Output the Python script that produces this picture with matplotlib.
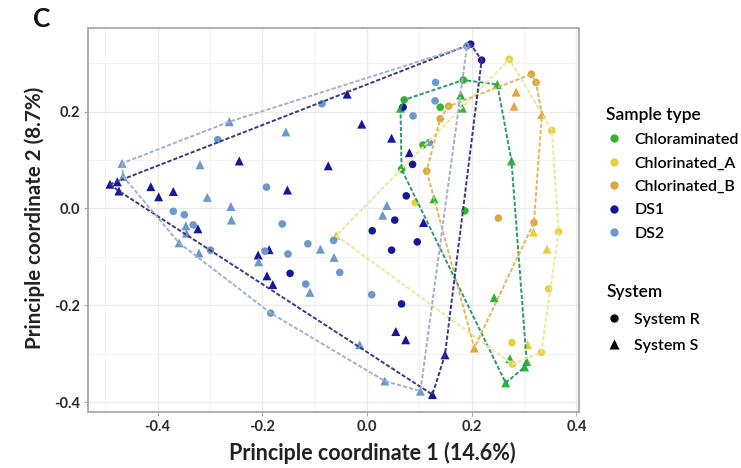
import numpy as np
import matplotlib
matplotlib.use("Agg")
import matplotlib.pyplot as plt
from matplotlib.lines import Line2D

plt.rcParams['font.family'] = ['Lato', 'DejaVu Sans']
plt.rcParams['axes.unicode_minus'] = False

# ---------------- data (PCoA coordinates) ----------------
groups = ["Chloraminated", "Chlorinated_A", "Chlorinated_B", "DS1", "DS2"]
systems = ["System R", "System S"]

chloram_R_x = [0.071, 0.184, 0.140, 0.107, 0.066, 0.187]
chloram_R_y = [0.224, 0.265, 0.209, 0.131, 0.081, -0.005]
chloram_S_x = [0.064, 0.249, 0.179, 0.182, 0.276, 0.128, 0.243, 0.273, 0.305, 0.301, 0.265]
chloram_S_y = [0.207, 0.256, 0.234, 0.207, 0.098, 0.020, -0.184, -0.310, -0.316, -0.327, -0.360]

chlA_R_x = [0.272, 0.353, 0.366, 0.347, 0.277, 0.333, 0.278, 0.092]
chlA_R_y = [0.308, 0.161, -0.048, -0.166, -0.277, -0.297, -0.321, 0.012]
chlA_S_x = [0.318, 0.344, 0.307, -0.059]
chlA_S_y = [-0.049, -0.084, -0.281, -0.056]

chlB_R_x = [0.314, 0.323, 0.156, 0.140, 0.114, 0.251, 0.319]
chlB_R_y = [0.277, 0.260, 0.211, 0.185, 0.077, -0.020, -0.029]
chlB_S_x = [0.285, 0.281, 0.334, 0.205]
chlB_S_y = [0.240, 0.211, 0.194, -0.288]

ds1_R_x = [0.198, 0.219, 0.069, 0.087, 0.075, 0.053, 0.010, 0.047, 0.096, -0.147, 0.066]
ds1_R_y = [0.339, 0.306, 0.209, 0.091, 0.026, -0.024, -0.046, -0.086, -0.069, -0.134, -0.197]
ds1_S_x = [-0.038, -0.010, 0.047, 0.081, -0.074, -0.152, -0.244, -0.413, -0.398, -0.370,
           -0.491, -0.477, -0.474, -0.323, -0.208, -0.187, -0.191, -0.180, 0.055, 0.074,
           0.149, 0.125, 0.108]
ds1_S_y = [0.236, 0.174, 0.145, 0.115, 0.088, 0.038, 0.098, 0.045, 0.024, 0.035,
           0.050, 0.055, 0.036, -0.042, -0.096, -0.085, -0.139, -0.157, -0.254, -0.271,
           -0.302, -0.384, -0.029]

ds2_R_x = [0.191, -0.086, 0.131, 0.130, 0.088, 0.119, -0.285, -0.192, -0.370, -0.349,
           -0.332, -0.162, -0.195, -0.151, -0.113, -0.064, -0.052, -0.117, -0.184, 0.009,
           -0.299]
ds2_R_y = [0.335, 0.216, 0.260, 0.222, 0.191, 0.136, 0.142, 0.044, -0.006, -0.013,
           -0.034, -0.032, -0.088, -0.094, -0.073, -0.066, -0.132, -0.156, -0.216, -0.178,
           -0.086]
ds2_S_x = [-0.263, -0.468, -0.466, -0.319, -0.155, -0.305, -0.260, -0.259, -0.346, -0.345,
           -0.359, -0.321, -0.207, -0.089, -0.063, -0.109, -0.014, 0.034, 0.102, 0.030,
           0.038]
ds2_S_y = [0.179, 0.093, 0.066, 0.090, 0.158, 0.023, 0.004, -0.024, -0.036, -0.051,
           -0.071, -0.092, -0.110, -0.084, -0.101, -0.173, -0.281, -0.356, -0.377, -0.014,
           0.006]

x_ticks = [-0.4, -0.2, 0.0, 0.2, 0.4]
y_ticks = [-0.4, -0.2, 0.0, 0.2]
x_label = "Principle coordinate 1 (14.6%)"
y_label = "Principle coordinate 2 (8.7%)"
panel_letter = "C"

# ---------------- styling ----------------
point_colors = {"Chloraminated": "#2fb52f", "Chlorinated_A": "#e8cf3c",
                "Chlorinated_B": "#dfa63e", "DS1": "#16169a", "DS2": "#6c98cc"}
hull_colors = {"Chloraminated": "#2f9a6a", "Chlorinated_A": "#ede69a",
               "Chlorinated_B": "#e2b85a", "DS1": "#3a3a86", "DS2": "#a3b2cc"}

data = {
    "Chloraminated": ((chloram_R_x, chloram_R_y), (chloram_S_x, chloram_S_y)),
    "Chlorinated_A": ((chlA_R_x, chlA_R_y), (chlA_S_x, chlA_S_y)),
    "Chlorinated_B": ((chlB_R_x, chlB_R_y), (chlB_S_x, chlB_S_y)),
    "DS1": ((ds1_R_x, ds1_R_y), (ds1_S_x, ds1_S_y)),
    "DS2": ((ds2_R_x, ds2_R_y), (ds2_S_x, ds2_S_y)),
}


def convex_hull(pts):
    pts = sorted(set(map(tuple, pts)))
    if len(pts) <= 2:
        return pts

    def cross(o, a, b):
        return (a[0] - o[0]) * (b[1] - o[1]) - (a[1] - o[1]) * (b[0] - o[0])

    lower, upper = [], []
    for p in pts:
        while len(lower) >= 2 and cross(lower[-2], lower[-1], p) <= 0:
            lower.pop()
        lower.append(p)
    for p in reversed(pts):
        while len(upper) >= 2 and cross(upper[-2], upper[-1], p) <= 0:
            upper.pop()
        upper.append(p)
    return lower[:-1] + upper[:-1]


fig = plt.figure(figsize=(7.41, 4.68), dpi=100)
ax = fig.add_axes([88 / 741, 1 - 412 / 468, (579 - 88) / 741, (412 - 27.7) / 468])

ax.set_xlim(-0.533, 0.405)
ax.set_ylim(-0.42, 0.373)

# grid
ax.set_xticks(x_ticks)
ax.set_yticks(y_ticks)
ax.set_xticks(np.arange(-0.5, 0.41, 0.2), minor=True)
ax.set_yticks(np.arange(-0.3, 0.37, 0.2), minor=True)
ax.grid(True, which='major', color='#ebebeb', linewidth=1.0)
ax.grid(True, which='minor', color='#f3f3f3', linewidth=0.8)
ax.set_axisbelow(True)
ax.tick_params(which='minor', length=0)

for g in groups:
    (rx, ry), (sx, sy) = data[g]
    ax.scatter(rx, ry, s=30, marker='o', color=point_colors[g], edgecolors='none', zorder=3)
    ax.scatter(sx, sy, s=42, marker='^', color=point_colors[g], edgecolors='none', zorder=3)

for g in groups:
    (rx, ry), (sx, sy) = data[g]
    allp = list(zip(list(rx) + list(sx), list(ry) + list(sy)))
    h = convex_hull(allp)
    h = h + [h[0]]
    hx = [p[0] for p in h]
    hy = [p[1] for p in h]
    ax.plot(hx, hy, color=hull_colors[g], linewidth=1.4, linestyle=(0, (2.2, 1.0)), zorder=4)

for sp in ax.spines.values():
    sp.set_color('#a8a8a8')
    sp.set_linewidth(1.3)

ax.tick_params(which='major', length=3, color='#a8a8a8', labelsize=10.5,
               labelcolor='#2a2a2a', pad=3)
ax.set_xticklabels([f"{t:.1f}" for t in x_ticks])
ax.set_yticklabels([f"{t:.1f}" for t in y_ticks])
for lab in ax.get_xticklabels() + ax.get_yticklabels():
    lab.set_fontweight('bold')

fig.text(372 / 741, 1 - 453 / 468, x_label, fontsize=15.5, fontweight='bold',
         color='#222222', ha='center', va='center')
fig.text(35 / 741, 1 - 218 / 468, y_label, fontsize=14.8, fontweight='bold',
         color='#222222', ha='center', va='center', rotation=90)

fig.text(33 / 741, 1 - 19 / 468, panel_letter, fontsize=19, fontweight='bold',
         ha='left', va='center', color='#111111')

# legends
h1 = [Line2D([], [], marker='o', linestyle='none', markersize=6,
             markerfacecolor=point_colors[g], markeredgecolor='none') for g in groups]
leg1 = ax.legend(h1, groups, title="Sample type", loc='upper left',
                 bbox_to_anchor=(600 / 741, 1 - 101 / 468), bbox_transform=fig.transFigure,
                 frameon=False, fontsize=11.5, title_fontsize=12.5, handlelength=1.0,
                 handletextpad=0.75, labelspacing=0.58, alignment='left', borderaxespad=0)
for t in leg1.get_texts():
    t.set_fontweight('semibold')
leg1.get_title().set_fontweight('semibold')
ax.add_artist(leg1)

h2 = [Line2D([], [], marker='o', linestyle='none', markersize=6,
             markerfacecolor='black', markeredgecolor='none'),
      Line2D([], [], marker='^', linestyle='none', markersize=7,
             markerfacecolor='black', markeredgecolor='none')]
leg2 = ax.legend(h2, systems, title="System", loc='upper left',
                 bbox_to_anchor=(600 / 741, 1 - 278 / 468), bbox_transform=fig.transFigure,
                 frameon=False, fontsize=11.5, title_fontsize=12.5, handlelength=1.0,
                 handletextpad=0.75, labelspacing=0.76, alignment='left', borderaxespad=0)
for t in leg2.get_texts():
    t.set_fontweight('semibold')
leg2.get_title().set_fontweight('semibold')

fig.savefig("out.png", dpi=100)
